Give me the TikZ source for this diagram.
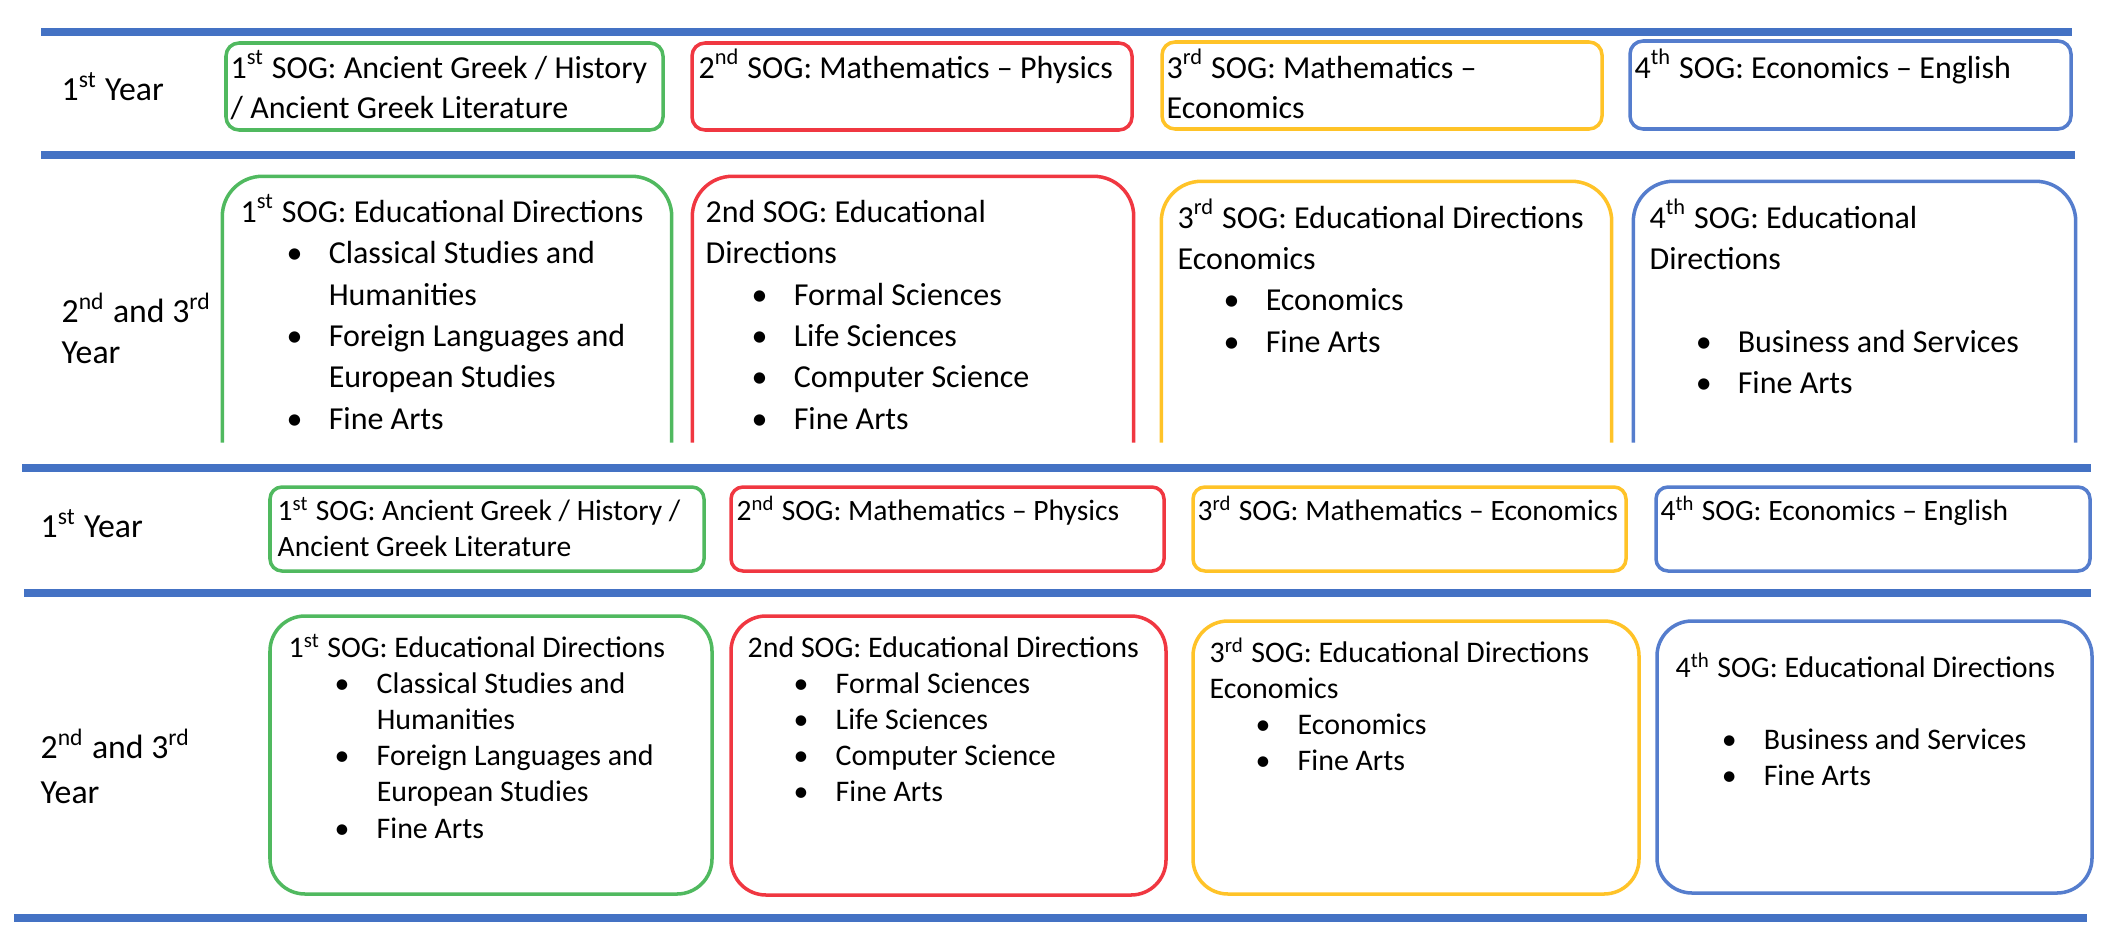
\documentclass[tikz,border=0pt]{standalone}
\usepackage{fontspec}
\setmainfont{Carlito}
\usetikzlibrary{fit}

\definecolor{rulecol}{RGB}{68,114,196}
\definecolor{sogone}{RGB}{80,185,95}
\definecolor{sogtwo}{RGB}{240,55,65}
\definecolor{sogthree}{RGB}{255,195,40}
\definecolor{sogfour}{RGB}{85,125,205}

\newlength{\bulgap}\setlength{\bulgap}{0.46cm}
\newlength{\labgap}\setlength{\labgap}{0.42cm}
\newcommand{\sogitem}[1]{\hspace*{\bulgap}\makebox[\labgap][l]{\textbullet}#1}
\newcommand{\sogcont}[1]{\hspace*{\bulgap}\hspace*{\labgap}#1}
\newcommand{\sogrows}[1]{\begin{tabular}[t]{@{}l@{}}#1\end{tabular}}
\newcommand{\upperone}{\fontsize{9.1}{11.4}\selectfont}
\newcommand{\uppertwo}{\fontsize{9.1}{11.8}\selectfont}
\newcommand{\lowerone}{\fontsize{8.4}{10.5}\selectfont}
\newcommand{\lowertwo}{\fontsize{8.5}{10.3}\selectfont}
\newcommand{\yearfont}{\fontsize{9.6}{11.7}\selectfont}

\begin{document}
\begin{tikzpicture}[x=0.01cm, y=-0.01cm,
    rule/.style ={draw=rulecol, line width=2pt},
    sogbox/.style ={draw, line width=1pt, inner sep=0pt},
    txt/.style ={anchor=base west, inner sep=0pt}]
   \useasboundingbox (0,0) rectangle (2118,948);

   % upper table
   \draw[rule] (41,32) -- (2072,32);
   \draw[rule] (41,155) -- (2075,155);

   \node[txt, font=\yearfont] (yearA) at (61,100) {1\textsuperscript{st} Year};
   \node[txt, font=\yearfont] (yearB) at (61,322) {\sogrows{2\textsuperscript{nd} and 3\textsuperscript{rd}\\Year}};

   \node[sogbox, draw=sogone, rounded corners=0.13cm, fit={(226,43) (663,130)}] (g1) {};
   \node[sogbox, draw=sogtwo, rounded corners=0.13cm, fit={(692,43) (1132,130)}] (r1) {};
   \node[sogbox, draw=sogthree, rounded corners=0.13cm, fit={(1162,42) (1602,129)}] (y1) {};
   \node[sogbox, draw=sogfour, rounded corners=0.13cm, fit={(1630,41) (2071,129)}] (b1) {};

   \node[txt, font=\upperone] (g1t) at (230,78) {\sogrows{1\textsuperscript{st} SOG: Ancient Greek / History\\/ Ancient Greek Literature}};
   \node[txt, font=\upperone] (r1t) at (698,78) {2\textsuperscript{nd} SOG: Mathematics \textendash{} Physics};
   \node[txt, font=\upperone] (y1t) at (1166,78) {\sogrows{3\textsuperscript{rd} SOG: Mathematics \textendash\\Economics}};
   \node[txt, font=\upperone] (b1t) at (1634,78) {4\textsuperscript{th} SOG: Economics \textendash{} English};

   \node[inner sep=0pt, fit={(223,177) (671,442)}] (g2) {};
   \node[inner sep=0pt, fit={(693,177) (1133,442)}] (r2) {};
   \node[inner sep=0pt, fit={(1162,182) (1611,442)}] (y2) {};
   \node[inner sep=0pt, fit={(1634,182) (2075,442)}] (b2) {};
   \draw[sogone, line width=1pt, rounded corners=0.4cm] (g2.south west) -- (g2.north west) -- (g2.north east) -- (g2.south east);
   \draw[sogtwo, line width=1pt, rounded corners=0.4cm] (r2.south west) -- (r2.north west) -- (r2.north east) -- (r2.south east);
   \draw[sogthree, line width=1pt, rounded corners=0.4cm] (y2.south west) -- (y2.north west) -- (y2.north east) -- (y2.south east);
   \draw[sogfour, line width=1pt, rounded corners=0.4cm] (b2.south west) -- (b2.north west) -- (b2.north east) -- (b2.south east);

   \node[txt, font=\uppertwo] (g2t) at (240,222) {\sogrows{1\textsuperscript{st} SOG: Educational Directions\\
     \sogitem{Classical Studies and}\\ \sogcont{Humanities}\\
     \sogitem{Foreign Languages and}\\ \sogcont{European Studies}\\
     \sogitem{Fine Arts}}};
   \node[txt, font=\uppertwo] (r2t) at (705,222) {\sogrows{2nd SOG: Educational\\Directions\\
     \sogitem{Formal Sciences}\\ \sogitem{Life Sciences}\\
     \sogitem{Computer Science}\\ \sogitem{Fine Arts}}};
   \node[txt, font=\uppertwo] (y2t) at (1177,228) {\sogrows{3\textsuperscript{rd} SOG: Educational Directions\\Economics\\
     \sogitem{Economics}\\ \sogitem{Fine Arts}}};
   \node[txt, font=\uppertwo] (b2t) at (1649,228) {\sogrows{4\textsuperscript{th} SOG: Educational\\Directions\\ \\
     \sogitem{Business and Services}\\ \sogitem{Fine Arts}}};

   % lower table
   \draw[rule] (22,468) -- (2091,468);
   \draw[rule] (24,593) -- (2091,593);
   \draw[rule] (14,918) -- (2087,918);

   \node[txt, font=\yearfont] (yearC) at (40,537) {1\textsuperscript{st} Year};
   \node[txt, font=\fontsize{9.6}{12.8}\selectfont] (yearD) at (40,758) {\sogrows{2\textsuperscript{nd} and 3\textsuperscript{rd}\\Year}};

   \node[sogbox, draw=sogone, rounded corners=0.12cm, fit={(270,487) (704,571)}] (g3) {};
   \node[sogbox, draw=sogtwo, rounded corners=0.12cm, fit={(731,487) (1164,571)}] (r3) {};
   \node[sogbox, draw=sogthree, rounded corners=0.12cm, fit={(1193,487) (1626,571)}] (y3) {};
   \node[sogbox, draw=sogfour, rounded corners=0.12cm, fit={(1656,487) (2090,571)}] (b3) {};

   \node[txt, font=\lowerone] (g3t) at (277,520) {\sogrows{1\textsuperscript{st} SOG: Ancient Greek / History /\\Ancient Greek Literature}};
   \node[txt, font=\lowerone] (r3t) at (736,520) {2\textsuperscript{nd} SOG: Mathematics \textendash{} Physics};
   \node[txt, font=\lowerone] (y3t) at (1197,520) {3\textsuperscript{rd} SOG: Mathematics \textendash{} Economics};
   \node[txt, font=\lowerone] (b3t) at (1660,520) {4\textsuperscript{th} SOG: Economics \textendash{} English};

   \node[sogbox, draw=sogone, rounded corners=0.35cm, fit={(270,616) (712,894)}] (g4) {};
   \node[sogbox, draw=sogtwo, rounded corners=0.35cm, fit={(731,616) (1166,895)}] (r4) {};
   \node[sogbox, draw=sogthree, rounded corners=0.35cm, fit={(1193,621) (1639,894)}] (y4) {};
   \node[sogbox, draw=sogfour, rounded corners=0.35cm, fit={(1657,621) (2092,893)}] (b4) {};

   \node[txt, font=\lowertwo] (g4t) at (288,657) {\sogrows{1\textsuperscript{st} SOG: Educational Directions\\
     \sogitem{Classical Studies and}\\ \sogcont{Humanities}\\
     \sogitem{Foreign Languages and}\\ \sogcont{European Studies}\\
     \sogitem{Fine Arts}}};
   \node[txt, font=\lowertwo] (r4t) at (747,657) {\sogrows{2nd SOG: Educational Directions\\
     \sogitem{Formal Sciences}\\ \sogitem{Life Sciences}\\
     \sogitem{Computer Science}\\ \sogitem{Fine Arts}}};
   \node[txt, font=\lowertwo] (y4t) at (1209,662) {\sogrows{3\textsuperscript{rd} SOG: Educational Directions\\Economics\\
     \sogitem{Economics}\\ \sogitem{Fine Arts}}};
   \node[txt, font=\lowertwo] (b4t) at (1675,677) {\sogrows{4\textsuperscript{th} SOG: Educational Directions\\ \\
     \sogitem{Business and Services}\\ \sogitem{Fine Arts}}};
 \end{tikzpicture}
\end{document}
